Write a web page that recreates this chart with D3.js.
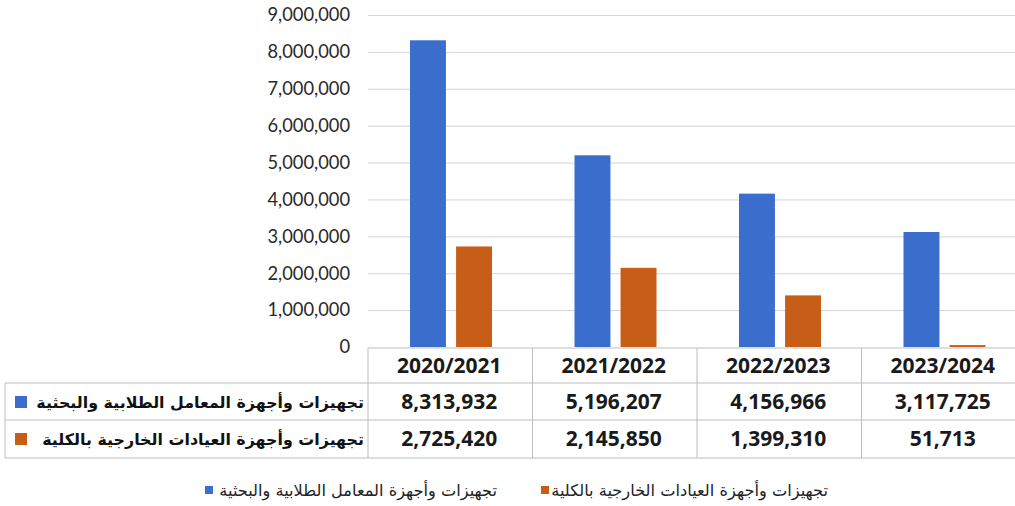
<!DOCTYPE html>
<html><head><meta charset="utf-8">
<script src="https://cdn.jsdelivr.net/npm/d3@7"></script>
<style>
body{margin:0;background:#fff;}
svg{display:block;}
</style></head>
<body><svg id="c" width="1015" height="506"></svg>
<script>
const categories = ["2020/2021","2021/2022","2022/2023","2023/2024"];
const seriesNames = ["تجهيزات وأجهزة المعامل الطلابية والبحثية","تجهيزات وأجهزة العيادات الخارجية بالكلية"];
const labsValues = [8313932,5196207,4156966,3117725];
const clinicsValues = [2725420,2145850,1399310,51713];
const yTicks = [0,1000000,2000000,3000000,4000000,5000000,6000000,7000000,8000000,9000000];
const colors = ["#3a6dcc","#c75e17"];

const series = [labsValues, clinicsValues];
const svg = d3.select("#c");
const W = 1015;
const plotL = 368, plotR = 1026, plotTop = 15, plotBot = 347;
const y = d3.scaleLinear().domain([0,9000000]).range([plotBot, plotTop]);
const x = d3.scaleBand().domain(categories).range([plotL, plotR]);
const xs = d3.scaleBand().domain([0,1]).range([42,124]).paddingInner(0.22).paddingOuter(0);

function fitText(sel, target, base){
  const n = sel.node();
  const len = n.getComputedTextLength();
  sel.attr("font-size", base*target/len);
}

// gridlines
svg.append("g").attr("transform",`translate(${plotL},0)`)
  .call(d3.axisLeft(y).tickValues(yTicks.slice(1)).tickSize(-(W-plotL)).tickFormat(""))
  .call(g=>g.select(".domain").remove())
  .call(g=>g.selectAll("line").attr("stroke","#d4d4d4").attr("stroke-width",1));

// y axis labels
svg.append("g").attr("transform",`translate(350,0)`)
  .call(d3.axisLeft(y).tickValues(yTicks).tickSize(0).tickPadding(0).tickFormat(d3.format(",")))
  .call(g=>g.select(".domain").remove())
  .call(g=>g.selectAll("text").attr("font-family","Lato, 'Open Sans', sans-serif").attr("font-size",18.3).attr("fill","#2a2a2a"));

// bars
series.forEach((vals,si)=>{
  svg.append("g").selectAll("rect").data(vals).join("rect")
    .attr("x",(d,i)=>x(categories[i])+xs(si))
    .attr("width",xs.bandwidth())
    .attr("y",d=>y(d))
    .attr("height",d=>plotBot-y(d))
    .attr("fill",colors[si]);
});

// table
const rowTop = [348,383,420,458];
const tbl = svg.append("g").attr("stroke","#bdbdbd").attr("stroke-width",1);
tbl.append("line").attr("x1",plotL).attr("x2",W).attr("y1",rowTop[0]).attr("y2",rowTop[0]);
[1,2,3].forEach(r=>tbl.append("line").attr("x1",5).attr("x2",W).attr("y1",rowTop[r]).attr("y2",rowTop[r]));
tbl.append("line").attr("x1",5).attr("x2",5).attr("y1",rowTop[1]).attr("y2",rowTop[3]);
categories.forEach(c=>tbl.append("line").attr("x1",x(c)).attr("x2",x(c)).attr("y1",rowTop[0]).attr("y2",rowTop[3]));

const fontNum = "'Open Sans', Lato, sans-serif";
svg.append("g").selectAll("text").data(categories).join("text")
  .attr("x",d=>x(d)+x.bandwidth()/2-1).attr("y",366).attr("dy","0.35em")
  .attr("text-anchor","middle").attr("font-family",fontNum).attr("font-weight","bold")
  .attr("font-size",21).attr("fill","#1a1a1a").text(d=>d);

const rowCenters = [402,439];
series.forEach((vals,si)=>{
  svg.append("g").selectAll("text").data(vals).join("text")
    .attr("x",(d,i)=>x(categories[i])+x.bandwidth()/2-1).attr("y",rowCenters[si]).attr("dy","0.35em")
    .attr("text-anchor","middle").attr("font-family",fontNum).attr("font-weight","bold")
    .attr("font-size",21).attr("fill","#1a1a1a").text(d=>d3.format(",")(d));
  const t = svg.append("text").attr("x",364).attr("y",rowCenters[si]).attr("dy","0.35em")
    .attr("text-anchor","end").attr("font-family","'DejaVu Sans', sans-serif").attr("font-weight","bold")
    .attr("font-size",17).attr("fill","#111").text(seriesNames[si]);
  fitText(t, si===0 ? 328 : 322, 17);
  svg.append("rect").attr("x",15).attr("y",rowCenters[si]-6).attr("width",12).attr("height",12)
    .attr("fill",colors[si]);
});

// bottom legend
const legendItems = [{sq:205, tr:497, w:278},{sq:541, tr:828, w:277}];
legendItems.forEach((li,si)=>{
  svg.append("rect").attr("x",li.sq).attr("y",486).attr("width",8).attr("height",8).attr("fill",colors[si]);
  const t = svg.append("text").attr("x",li.tr).attr("y",490).attr("dy","0.35em").attr("text-anchor","end")
    .attr("font-family","'DejaVu Sans', sans-serif").attr("font-size",14).attr("fill","#222").text(seriesNames[si]);
  fitText(t, li.w, 14);
});
</script></body></html>
